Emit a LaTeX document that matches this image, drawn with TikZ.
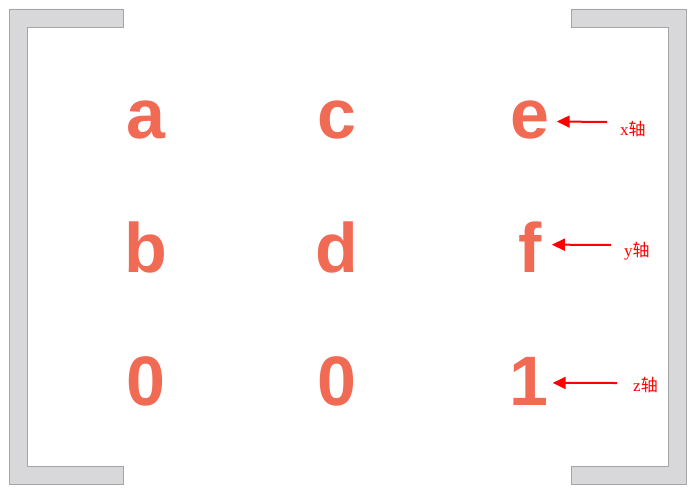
\documentclass[tikz,border=0pt]{standalone}
\usepackage{fontspec}
\setmainfont{Liberation Serif}
\newfontfamily\entryfont{Liberation Sans}
\newfontfamily\cjk{Noto Sans CJK SC}
\usepackage{xcolor}
\usetikzlibrary{arrows.meta, positioning, calc}
\definecolor{entrysalmon}{RGB}{240,106,84}
\definecolor{bracketfill}{RGB}{216,215,217}
\definecolor{bracketline}{RGB}{165,165,165}
\definecolor{axisred}{RGB}{255,0,0}

\begin{document}
\begin{tikzpicture}[
    x=1pt, y=1pt,
    entry/.style={anchor=base, inner sep=0pt, text=entrysalmon, font=\entryfont\bfseries\fontsize{70}{70}\selectfont},
    axislabel/.style={anchor=base west, inner sep=0pt, text=axisred, font=\fontsize{17}{17}\selectfont},
    bracket/.style={fill=bracketfill, draw=bracketline, line width=0.8pt},
    axisarrow/.style={-{Triangle[length=13pt, width=12pt]}, line width=2pt, color=axisred}
]
    \useasboundingbox (0,0) rectangle (695,499);

    % --- Brackets ---
    \draw[bracket] (123,490) -- (9,490) -- (9,15) -- (123,15) -- (123,33) -- (27,33) -- (27,472) -- (123,472) -- cycle;
    \draw[bracket] (571,490) -- (686,490) -- (686,15) -- (571,15) -- (571,33) -- (668,33) -- (668,472) -- (571,472) -- cycle;

    % --- Matrix entries ---
    % Top row
    \node[entry] (a) at (146,361) {a};
    \node[entry] (c) at (337,361) {c};
    \node[entry] (e) at (530,361) {e};

    % Middle row
    \node[entry] (b) at (146,227) {b};
    \node[entry] (d) at (337,227) {d};
    \node[entry] (f) at (530,227) {f};

    % Bottom row
    \node[entry] (zero-1) at (146,94) {0};
    \node[entry] (zero-2) at (337,94) {0};
    \node[entry] (one) at (529,94) {1};

    % --- Axis labels ---
    \node[axislabel] (x-axis) at (620,364) {x{\cjk 轴}};
    \node[axislabel] (y-axis) at (624,243) {y{\cjk 轴}};
    \node[axislabel] (z-axis) at (633,108) {z{\cjk 轴}};

    % --- Connections ---
    \draw[axisarrow] ([xshift=-13pt, yshift=13pt]x-axis.base west) -- ([xshift=7pt, yshift=-2pt]e.east);
    \draw[axisarrow] ([xshift=-13pt, yshift=11pt]y-axis.base west) -- ([xshift=10pt, yshift=2pt]f.east);
    \draw[axisarrow] ([xshift=-16pt, yshift=8pt]z-axis.base west) -- ([xshift=4pt, yshift=-2pt]one.east);

\end{tikzpicture}
\end{document}
